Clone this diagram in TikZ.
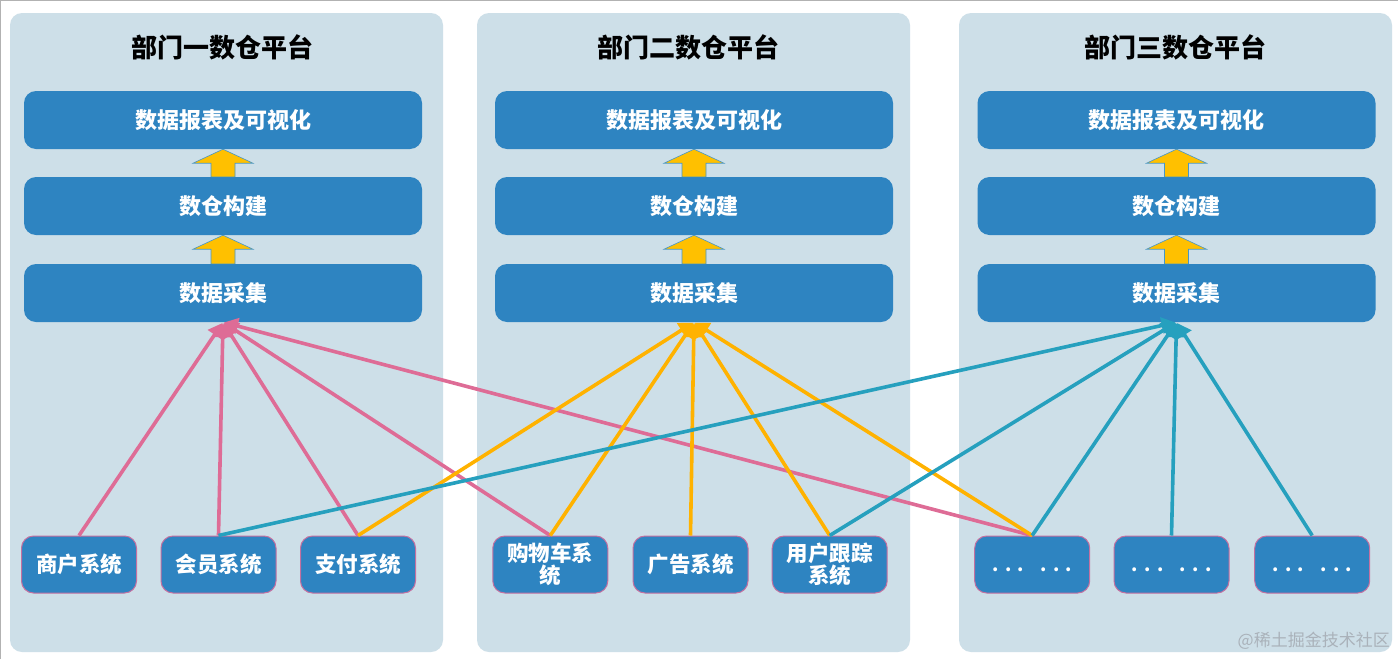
\documentclass[tikz,border=0pt]{standalone}
\usepackage{fontspec}
\setmainfont{Noto Sans CJK SC}
\usetikzlibrary{arrows.meta,calc}
\definecolor{panelbg}{RGB}{205,223,232}
\definecolor{boxblue}{RGB}{46,132,193}
\definecolor{boxedge}{RGB}{196,112,160}
\definecolor{pinkline}{RGB}{222,108,150}
\definecolor{orangeline}{RGB}{255,178,0}
\definecolor{tealline}{RGB}{38,160,190}
\definecolor{yarrowfill}{RGB}{255,192,0}
\definecolor{yarrowedge}{RGB}{70,150,200}
\definecolor{wmgray}{RGB}{170,178,186}
\tikzset{
  panel/.style={fill=panelbg, rounded corners=12pt, minimum width=433pt, minimum height=639pt, inner sep=0pt},
  ptitle/.style={font=\fontsize{26}{30}\selectfont\bfseries, text=black, inner sep=0pt},
  layerbox/.style={fill=boxblue, rounded corners=12pt, minimum width=398pt, minimum height=58pt, inner sep=0pt, text=white, font=\fontsize{22}{25}\selectfont\bfseries},
  sysbox/.style={fill=boxblue, draw=boxedge, line width=1pt, rounded corners=12pt, minimum width=115pt, minimum height=57pt, inner sep=0pt, text=white, align=center, font=\fontsize{21.5}{23}\selectfont\bfseries},
  link/.style={line width=3.6pt, -{Triangle[length=14pt,width=16pt]}, shorten >=1pt},
  pinklink/.style={link, draw=pinkline, fill=pinkline},
  orangelink/.style={link, draw=orangeline, fill=orangeline},
  teallink/.style={link, draw=tealline, fill=tealline},
  yarrow/.style={fill=yarrowfill, draw=yarrowedge, line width=0.6pt},
  wmark/.style={text=wmgray, font=\fontsize{17}{20}\selectfont, inner sep=0pt}
}
\newcommand\upblock[2]{%
  \draw[yarrow] ($(#1.north)+(-12,0)$) -- ($(#2.south)+(-12,14)$) -- ($(#2.south)+(-30,14)$)
    -- (#2.south) -- ($(#2.south)+(30,14)$) -- ($(#2.south)+(12,14)$) -- ($(#1.north)+(12,0)$) -- cycle;}
\newcommand\dotstext{\fontsize{18}{20}\selectfont\vphantom{系}.\hspace{6.5pt}.\hspace{6.5pt}.\hspace{16pt}.\hspace{6.5pt}.\hspace{6.5pt}.}
\begin{document}
\begin{tikzpicture}[x=1pt,y=-1pt]
\useasboundingbox (0,0) rectangle (1398,659);
\fill[white] (0,0) rectangle (1398,659);
\draw[gray!60, line width=1pt] (0.5,659) -- (0.5,0.5) -- (1398,0.5);

% panels
\node[panel] (p1) at (226.5,332.5) {};
\node[panel] (p2) at (693.5,332.5) {};
\node[panel] (p3) at (1175.5,332.5) {};

% titles
\node[ptitle] (t1) at (222,47) {部门一数仓平台};
\node[ptitle] (t2) at (688,47) {部门二数仓平台};
\node[ptitle] (t3) at (1175,47) {部门三数仓平台};

% layers
\node[layerbox] (rep1) at (223,120) {数据报表及可视化};
\node[layerbox] (dw1)  at (223,206) {数仓构建};
\node[layerbox] (col1) at (223,293) {数据采集};
\node[layerbox] (rep2) at (694,120) {数据报表及可视化};
\node[layerbox] (dw2)  at (694,206) {数仓构建};
\node[layerbox] (col2) at (694,293) {数据采集};
\node[layerbox] (rep3) at (1176.5,120) {数据报表及可视化};
\node[layerbox] (dw3)  at (1176.5,206) {数仓构建};
\node[layerbox] (col3) at (1176.5,293) {数据采集};

% block arrows
\upblock{dw1}{rep1}
\upblock{col1}{dw1}
\upblock{dw2}{rep2}
\upblock{col2}{dw2}
\upblock{dw3}{rep3}
\upblock{col3}{dw3}

% source systems
\node[sysbox] (shop) at (79,564.5) {商户系统};
\node[sysbox] (member) at (218.5,564.5) {会员系统};
\node[sysbox] (pay) at (358,564.5) {支付系统};
\node[sysbox] (cart) at (550.3,564.5) {购物车系\\[-1pt]统};
\node[sysbox] (ad) at (690.5,564.5) {广告系统};
\node[sysbox] (track) at (829.7,564.5) {用户跟踪\\[-1pt]系统};
\node[sysbox] (d1) at (1032.2,564.5) {\dotstext};
\node[sysbox] (d2) at (1171.5,564.5) {\dotstext};
\node[sysbox] (d3) at (1312.2,564.5) {\dotstext};

% connectors
\draw[pinklink] (shop.north) -- (col1.south);
\draw[pinklink] (member.north) -- (col1.south);
\draw[pinklink] (pay.north) -- (col1.south);
\draw[pinklink] (cart.north) -- (col1.south);
\draw[pinklink] (d1.north) -- (col1.south);

\draw[orangelink] (pay.north) -- (col2.south);
\draw[orangelink] (cart.north) -- (col2.south);
\draw[orangelink] (ad.north) -- (col2.south);
\draw[orangelink] (track.north) -- (col2.south);
\draw[orangelink] (d1.north) -- (col2.south);

\draw[teallink] (member.north) -- (col3.south);
\draw[teallink] (track.north) -- (col3.south);
\draw[teallink] (d1.north) -- (col3.south);
\draw[teallink] (d2.north) -- (col3.south);
\draw[teallink] (d3.north) -- (col3.south);

% watermark
\node[wmark, anchor=east] (wm) at (1390,641) {@稀土掘金技术社区};
\end{tikzpicture}
\end{document}
